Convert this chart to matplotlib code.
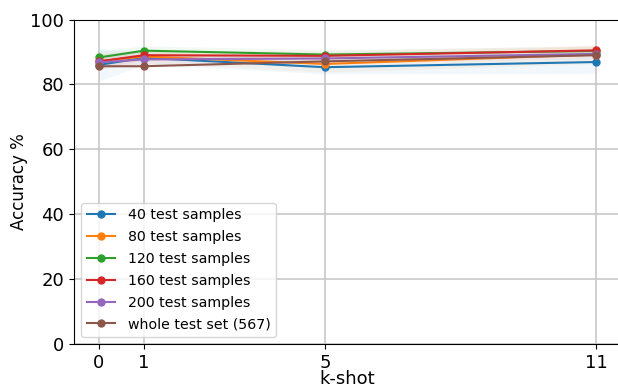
import matplotlib
matplotlib.use('Agg')
import matplotlib.pyplot as plt
import numpy as np

# k-shot values on the x axis
k_shot = [0, 1, 5, 11]

labels = [
    '40 test samples',
    '80 test samples',
    '120 test samples',
    '160 test samples',
    '200 test samples',
    'whole test set (567)',
]

# mean accuracy per series
acc_40 = [86.0, 88.2, 85.3, 86.9]
acc_80 = [87.2, 88.6, 86.3, 89.2]
acc_120 = [88.3, 90.4, 89.2, 90.3]
acc_160 = [87.1, 89.0, 88.8, 90.5]
acc_200 = [86.8, 87.7, 88.0, 89.4]
acc_whole = [85.6, 85.6, 87.1, 89.0]

# spread used for the faint shaded bands
std_40 = [5.0, 2.0, 2.0, 3.5]
std_80 = [2.5, 2.0, 2.5, 2.8]
std_120 = [2.0, 1.5, 1.5, 1.5]
std_160 = [2.0, 1.5, 1.5, 1.5]
std_200 = [2.0, 1.5, 1.5, 1.5]
std_whole = [0.0, 0.0, 0.0, 0.0]

means = [acc_40, acc_80, acc_120, acc_160, acc_200, acc_whole]
stds = [std_40, std_80, std_120, std_160, std_200, std_whole]
colors = ['C0', 'C1', 'C2', 'C3', 'C4', 'C5']

fig = plt.figure(figsize=(6.18, 3.87), dpi=100)
ax = fig.add_axes([0.1197, 0.111, 0.885, 0.8386])

for lab, m, s, c in zip(labels, means, stds, colors):
    m = np.array(m)
    s = np.array(s)
    ax.fill_between(k_shot, m - s, m + s, color=c, alpha=0.06, linewidth=0)
    ax.plot(k_shot, m, marker='o', markersize=5, linewidth=1.5, color=c, label=lab)

ax.set_ylim(0, 100)
ax.set_xticks(k_shot)
ax.set_yticks([0, 20, 40, 60, 80, 100])
ax.tick_params(labelsize=13)
ax.grid(True, color='#c8c8c8', linewidth=1.2)
ax.set_axisbelow(True)
ax.spines['right'].set_visible(False)
ax.set_xlabel('k-shot', fontsize=13, labelpad=-1)
ax.set_ylabel('Accuracy %', fontsize=12, labelpad=2)
ax.legend(loc='lower left', fontsize=10.2, handletextpad=0.9, labelspacing=0.55)

fig.savefig('out.png', dpi=100)
